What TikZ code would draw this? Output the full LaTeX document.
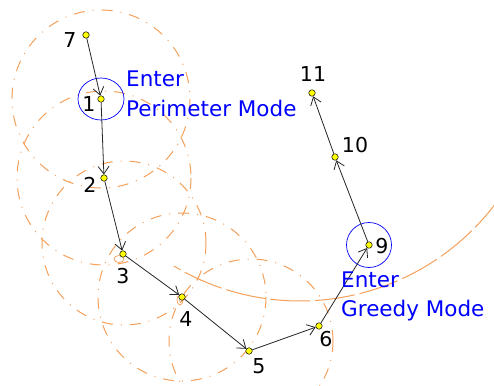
\documentclass[tikz,border=0pt]{standalone}
\usepackage{fontspec}
\setmainfont{DejaVu Sans}
\usetikzlibrary{arrows.meta}
\definecolor{Hop}{HTML}{F5A05A}
\definecolor{Mode}{HTML}{0000FF}
\definecolor{Dot}{HTML}{FFFF00}

\begin{document}
\begin{tikzpicture}[x=1pt, y=-1pt,
    every node/.style={font=\fontsize{20.5}{24}\selectfont},
    hop/.style={circle, draw=black, line width=0.5pt, fill=Dot, inner sep=0pt, minimum size=6.5pt},
    route/.style={draw=black!85, line width=0.8pt, -{Straight Barb[length=7.5pt, width=11pt]}},
    radiorange/.style={Hop, line width=1pt, dash pattern=on 11pt off 8pt on 1pt off 8pt},
    modetext/.style={Mode, anchor=base west, inner sep=0pt, font=\fontsize{21.5}{26}\selectfont}]
      \fill[white] (0,0) rectangle (494,385);
      \clip (0,0) rectangle (494,385);
      % radio ranges
      \foreach \cx/\cy/\r in {101/99/89, 104/178/87, 124/243/82, 182/297/84, 251/341/82} {
        \draw[radiorange] (\cx,\cy) circle[radius=\r];
      }
      \draw[Hop, line width=1pt, dash pattern=on 40pt off 5pt]
        plot[domain=35:121, samples=60] ({300+245*cos(\x)}, {56+245*sin(\x)});
      \draw[Hop, line width=0.7pt] (119,259) ellipse[x radius=5, y radius=3.5];
      \draw[Hop, line width=0.7pt] (180,300) ellipse[x radius=3, y radius=5];
      % hops
      \node[hop] (n7) at (86,35) {};
      \node[hop] (n1) at (101,99) {};
      \node[hop] (n2) at (104,178) {};
      \node[hop] (n3) at (123,254) {};
      \node[hop] (n4) at (182,297) {};
      \node[hop] (n5) at (249,351) {};
      \node[hop] (n6) at (319,326) {};
      \node[hop] (n9) at (369,245) {};
      \node[hop] (n10) at (335,157) {};
      \node[hop] (n11) at (312,93) {};
      \draw[Mode, line width=0.7pt] (n1) ellipse[x radius=23, y radius=21];
      \draw[Mode, line width=0.7pt] (n9) circle[radius=22.5];
      \foreach \a/\b in {n7/n1, n1/n2, n2/n3, n3/n4, n4/n5, n5/n6, n6/n9, n9/n10, n10/n11} {
        \draw[route] (\a) -- (\b);
      }
      % labels
      \node (l7) at (70,40) {7};
      \node (l1) at (89,104) {1};
      \node (l2) at (90,185) {2};
      \node (l3) at (123,276) {3};
      \node (l4) at (186,319) {4};
      \node (l5) at (259,366) {5};
      \node (l6) at (326,339) {6};
      \node (l9) at (382,246) {9};
      \node (l10) at (355,145) {10};
      \node (l11) at (313,74) {11};
      \node[modetext] (enterP) at (126,87) {Enter};
      \node[modetext] (perim) at (126,116) {Perimeter Mode};
      \node[modetext] (enterG) at (341,287) {Enter};
      \node[modetext] (greedy) at (341,316) {Greedy Mode};
    \end{tikzpicture}
\end{document}
